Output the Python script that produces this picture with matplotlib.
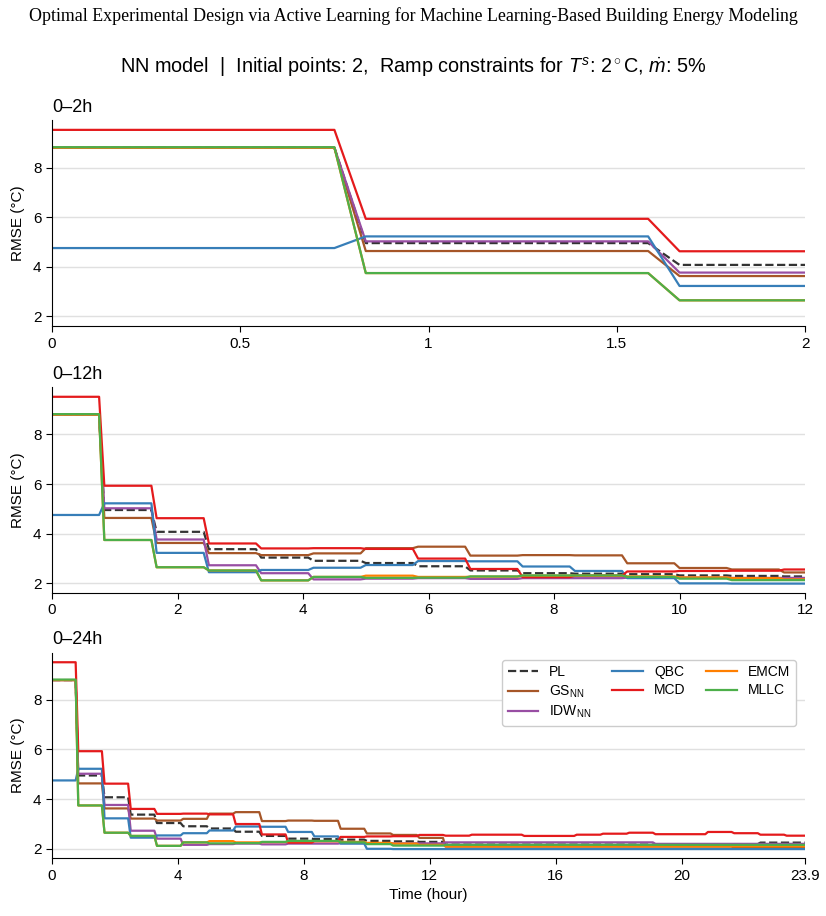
import numpy as np
import matplotlib
matplotlib.use('Agg')
from matplotlib import pyplot as plt

# RMSE per 50-min acquisition step (one value per step, k = 0..28)
pl   = [8.8, 4.95, 4.07, 3.37, 3.03, 2.9, 2.81, 2.68, 2.51, 2.4, 2.38, 2.36, 2.31, 2.29, 2.27,
        2.16, 2.16, 2.16, 2.16, 2.16, 2.16, 2.16, 2.16, 2.16, 2.16, 2.16, 2.18, 2.24, 2.24]
gs   = [8.8, 4.63, 3.62, 3.21, 3.13, 3.2, 3.41, 3.47, 3.11, 3.13, 3.12, 2.8, 2.61, 2.55, 2.43,
        2.08, 2.08, 2.08, 2.08, 2.08, 2.08, 2.08, 2.08, 2.08, 2.08, 2.08, 2.03, 2.03, 2.03]
idw  = [8.8, 5.02, 3.76, 2.72, 2.4, 2.15, 2.18, 2.2, 2.17, 2.2, 2.2, 2.22, 2.22, 2.21, 2.21,
        2.25, 2.25, 2.25, 2.25, 2.25, 2.25, 2.25, 2.25, 2.19, 2.19, 2.19, 2.19, 2.19, 2.19]
qbc  = [4.75, 5.22, 3.22, 2.44, 2.53, 2.62, 2.73, 2.89, 2.88, 2.67, 2.49, 2.2, 1.99, 1.98, 1.98,
        1.98, 1.98, 1.98, 1.98, 1.98, 1.98, 1.98, 1.98, 1.98, 1.98, 1.98, 1.98, 1.98, 1.98]
mcd  = [9.52, 5.93, 4.62, 3.6, 3.4, 3.41, 3.38, 2.99, 2.57, 2.24, 2.3, 2.47, 2.49, 2.5, 2.55,
        2.52, 2.56, 2.56, 2.51, 2.51, 2.56, 2.6, 2.64, 2.58, 2.58, 2.67, 2.62, 2.56, 2.52]
emcm = [8.8, 3.74, 2.64, 2.51, 2.11, 2.25, 2.3, 2.25, 2.26, 2.3, 2.3, 2.27, 2.23, 2.2, 2.15,
        2.09, 2.09, 2.09, 2.09, 2.09, 2.09, 2.09, 2.09, 2.09, 2.09, 2.09, 2.09, 2.09, 2.09]
mllc = [8.82, 3.74, 2.64, 2.51, 2.11, 2.25, 2.21, 2.22, 2.27, 2.31, 2.31, 2.25, 2.18, 2.12, 2.12,
        2.15, 2.15, 2.15, 2.15, 2.15, 2.15, 2.15, 2.15, 2.15, 2.15, 2.15, 2.15, 2.15, 2.15]

labels = ['PL', r'GS$_{\mathregular{NN}}$', r'IDW$_{\mathregular{NN}}$', 'QBC', 'MCD', 'EMCM', 'MLLC']
series = [pl, gs, idw, qbc, mcd, emcm, mllc]
colors = ['#333333', '#a65628', '#984ea3', '#377eb8', '#e41a1c', '#ff7f00', '#4daf4a']
styles = ['--', '-', '-', '-', '-', '-', '-']

# 5-min sampling grid, each step value held for 10 samples
n_samples = 288
t = np.arange(n_samples) / 12.0

plt.rcParams['font.family'] = ['Liberation Sans', 'DejaVu Sans']
plt.rcParams['mathtext.fontset'] = 'custom'
plt.rcParams['mathtext.rm'] = 'Liberation Sans'
plt.rcParams['mathtext.it'] = 'Liberation Sans:italic'

fig = plt.figure(figsize=(8.26, 9.16), dpi=100)
fig.text(0.5, 0.983, 'Optimal Experimental Design via Active Learning for Machine Learning-Based Building Energy Modeling',
         ha='center', va='center', fontsize=12.9, family='Liberation Serif')
fig.text(0.5, 0.927, r'NN model  |  Initial points: 2,  Ramp constraints for $T^s$: 2$^\circ$C, $\dot{m}$: 5%',
         ha='center', va='center', fontsize=14.3)

panels = [('0–2h', 2.0, [0, 0.5, 1, 1.5, 2], ['0', '0.5', '1', '1.5', '2'], 0.644),
          ('0–12h', 12.0, [0, 2, 4, 6, 8, 10, 12], None, 0.3526),
          ('0–24h', t[-1], [0, 4, 8, 12, 16, 20, t[-1]], ['0', '4', '8', '12', '16', '20', '23.9'], 0.0628)]

axes = []
for title, xmax, ticks, ticklabels, bottom in panels:
    ax = fig.add_axes([0.063, bottom, 0.9116, 0.2245])
    for vals, lab, c, ls in zip(series, labels, colors, styles):
        y = np.repeat(vals, 10)[:n_samples]
        ax.plot(t, y, color=c, ls=ls, lw=1.6, label=lab)
    ax.set_xlim(0, xmax)
    ax.set_ylim(1.6, 9.9)
    ax.set_yticks([2, 4, 6, 8])
    ax.set_xticks(ticks)
    if ticklabels:
        ax.set_xticklabels(ticklabels)
    ax.grid(axis='y', color='#e0e0e0', lw=1)
    ax.set_axisbelow(True)
    ax.spines['top'].set_visible(False)
    ax.spines['right'].set_visible(False)
    ax.tick_params(labelsize=11, length=4)
    ax.set_ylabel('RMSE (°C)', fontsize=11, labelpad=6)
    ax.set_title(title, loc='left', fontsize=13, pad=6)
    axes.append(ax)

axes[-1].set_xlabel('Time (hour)', fontsize=11)
axes[-1].legend(ncol=3, loc='upper right', fontsize=10, frameon=True, framealpha=1,
                edgecolor='#cccccc', handlelength=2.2, columnspacing=1.5,
                labelspacing=0.3, bbox_to_anchor=(0.997, 1.0))

fig.savefig('out.png', dpi=100)
